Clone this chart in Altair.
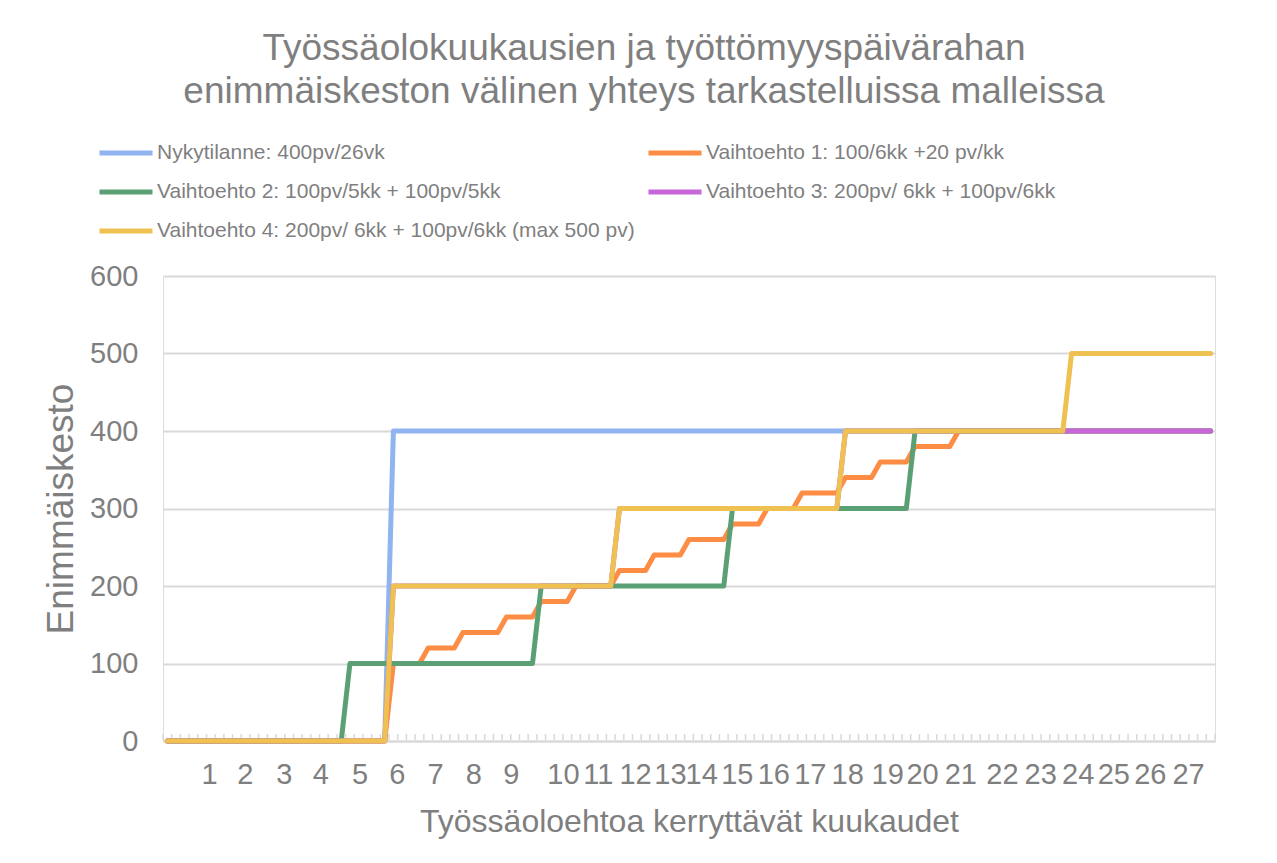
import altair as alt
import pandas as pd

# ---------------- data ----------------
series_names = [
    "Nykytilanne: 400pv/26vk",
    "Vaihtoehto 1: 100/6kk +20 pv/kk",
    "Vaihtoehto 2: 100pv/5kk + 100pv/5kk",
    "Vaihtoehto 3: 200pv/ 6kk + 100pv/6kk",
    "Vaihtoehto 4: 200pv/ 6kk + 100pv/6kk (max 500 pv)",
]
series_colors = ["#8fb4f0", "#fd8c45", "#5b9f74", "#c766d9", "#efc150"]

n_weeks = 121  # category rows (weeks) on the x axis

# week (category) at which each level starts, and the level
blue_weeks = [1, 27]
blue_levels = [0, 400]
orange_weeks = [1, 27, 31, 35, 40, 44, 48, 53, 57, 61, 66, 70, 74, 79, 83, 87, 92]
orange_levels = [0, 100, 120, 140, 160, 180, 200, 220, 240, 260, 280, 300, 320, 340, 360, 380, 400]
green_weeks = [1, 22, 44, 66, 87]
green_levels = [0, 100, 200, 300, 400]
purple_weeks = [1, 27, 53, 79]
purple_levels = [0, 200, 300, 400]
yellow_weeks = [1, 27, 53, 79, 105]
yellow_levels = [0, 200, 300, 400, 500]

# x-axis tick labels (months) and where they sit along the week axis
month_labels = [str(m) for m in range(1, 28)]
label_pos = [5.8, 9.9, 14.4, 18.6, 23.1, 27.4, 31.8, 36.2, 40.5, 46.5, 50.5, 54.8, 58.8,
             62.4, 66.5, 70.7, 74.9, 79.2, 83.8, 87.8, 92.2, 97.0, 101.4, 105.7, 109.8,
             114.0, 118.4]

y_ticks = [0, 100, 200, 300, 400, 500, 600]

# ---------------- build table ----------------
def vertices(name, weeks, levels):
    rows = [(weeks[0], levels[0])]
    for w, prev, lvl in zip(weeks[1:], levels[:-1], levels[1:]):
        rows.append((w - 1, prev))
        rows.append((w, lvl))
    rows.append((n_weeks, levels[-1]))
    return [{"series": name, "week": w, "value": v} for w, v in rows]

all_rows = []
for name, wk, lv in zip(series_names,
                        [blue_weeks, orange_weeks, green_weeks, purple_weeks, yellow_weeks],
                        [blue_levels, orange_levels, green_levels, purple_levels, yellow_levels]):
    all_rows += vertices(name, wk, lv)
df = pd.DataFrame(all_rows)

tick_df = pd.DataFrame({"b": [i + 0.5 for i in range(0, n_weeks + 1)]})

# ---------------- styling ----------------
FONT = "Liberation Sans"
GREY = "#7f7f7f"
GRID = "#d9d9d9"
W, H = 1052, 465

x_scale = alt.Scale(domain=[0.5, n_weeks + 0.5], nice=False, zero=False)
y_scale = alt.Scale(domain=[0, 600], nice=False)
color_scale = alt.Scale(domain=series_names, range=series_colors)

label_expr = "{}[indexof({}, datum.value)]".format(
    "[" + ",".join("'%s'" % s for s in month_labels) + "]",
    "[" + ",".join(str(w) for w in label_pos) + "]",
)

x_axis = alt.Axis(
    values=label_pos, labelExpr=label_expr, labelFontSize=29, labelColor=GREY,
    labelFont=FONT, labelPadding=19, labelOverlap=False, labelFlush=False, labelBound=False,
    ticks=False, grid=False, domain=True, domainColor=GRID, domainWidth=2,
    title="Työssäoloehtoa kerryttävät kuukaudet", titleFontSize=32, titleColor=GREY,
    titleFont=FONT, titleFontWeight="normal", titlePadding=17,
)
y_axis = alt.Axis(
    values=y_ticks, labelFontSize=29, labelColor=GREY, labelFont=FONT, labelPadding=25,
    ticks=False, domain=False, grid=True, gridColor=GRID, gridWidth=2,
    title="Enimmäiskesto", titleFontSize=37, titleColor=GREY, titleFont=FONT,
    titleFontWeight="normal", titlePadding=9,
)
legend = alt.Legend(
    title=None, orient="none", legendX=-66, legendY=-152, columns=2, direction="horizontal",
    symbolType="stroke", symbolSize=2809, symbolStrokeWidth=5, labelFontSize=21,
    labelColor=GREY, labelFont=FONT, labelOffset=2, columnPadding=3, rowPadding=-1.5,
    labelLimit=0, symbolOpacity=1,
)

ticks_layer = alt.Chart(tick_df).mark_rule(color=GRID, strokeWidth=1.5).encode(
    x=alt.X("b:Q", scale=x_scale, axis=x_axis),
    y=alt.value(H - 1),
    y2=alt.value(H - 7),
)

layers = [ticks_layer]
for name in series_names:
    layers.append(
        alt.Chart(df).transform_filter(alt.datum.series == name)
        .mark_line(strokeWidth=5, strokeCap="round", strokeJoin="round")
        .encode(
            x=alt.X("week:Q", scale=x_scale, axis=x_axis),
            y=alt.Y("value:Q", scale=y_scale, axis=y_axis),
            color=alt.Color("series:N", scale=color_scale, legend=legend),
        )
    )

chart = alt.layer(*layers).properties(
    width=W, height=H,
    autosize=alt.AutoSizeParams(type="none"),
    padding={"left": 155, "top": 268, "right": 50, "bottom": 100},
    title=alt.TitleParams(
        text=["Työssäolokuukausien ja työttömyyspäivärahan",
              "enimmäiskeston välinen yhteys tarkastelluissa malleissa"],
        fontSize=37, font=FONT, fontWeight="normal", color=GREY,
        anchor="middle", frame="group", dx=-45, offset=13, lineHeight=43,
    ),
).configure_view(stroke=None).configure(background="white")

chart.save("out.html", embed_options={"renderer": "svg", "actions": False})
